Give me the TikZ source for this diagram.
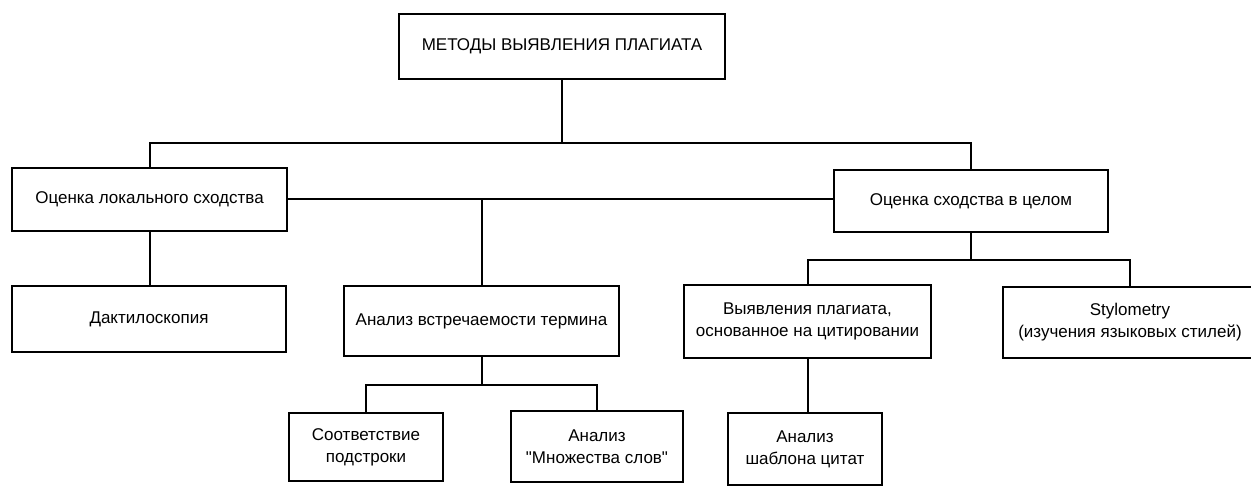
\documentclass[tikz,border=0pt]{standalone}
\usepackage{fontspec}
\setmainfont{Liberation Sans}
\begin{document}
\begin{tikzpicture}[x=1pt,y=-1pt,
  box/.style={draw, line width=2pt, anchor=north west, inner sep=0pt, align=center,
    font=\fontsize{17}{22}\selectfont},
  link/.style={line width=2pt}]
\useasboundingbox (0,0) rectangle (1251,486);
\fill[white] (0,0) rectangle (1251,486);
\clip (0,0) rectangle (1251,486);
\node[box, minimum width=326pt, minimum height=65pt] (top) at (398,13) {МЕТОДЫ ВЫЯВЛЕНИЯ ПЛАГИАТА};
\node[box, minimum width=275pt, minimum height=63pt] (L1) at (11,167) {Оценка локального сходства};
\node[box, minimum width=274pt, minimum height=62pt] (R1) at (833,169) {Оценка сходства в целом};
\node[box, minimum width=274pt, minimum height=66pt] (dak) at (11,285) {Дактилоскопия};
\node[box, minimum width=275pt, minimum height=70pt] (term) at (343,285) {Анализ встречаемости термина};
\node[box, minimum width=154pt, minimum height=68pt] (sub) at (288,412) {Соответствие\\подстроки};
\node[box, minimum width=172pt, minimum height=71pt] (bow) at (510,410) {Анализ\\\textquotedbl Множества слов\textquotedbl};
\node[box, minimum width=247pt, minimum height=73pt] (cit) at (683,284) {Выявления плагиата,\\основанное на цитировании};
\node[box, minimum width=254pt, minimum height=71pt] (sty) at (1002,286) {Stylometry\\(изучения языковых стилей)};
\node[box, minimum width=154pt, minimum height=72pt] (tmpl) at (727,412) {Анализ\\шаблона цитат};
\coordinate (h1) at (0,143);
\coordinate (j1) at (top.south |- h1);
\coordinate (h3) at (0,385);
\coordinate (j3) at (term.south |- h3);
\coordinate (h4) at (0,260);
\coordinate (j4) at (R1.south |- h4);
\draw[link] (top.south) -- (j1);
\draw[link] (L1.north) |- (j1) -| (R1.north);
\draw[link] (L1.south) -- (L1.south |- dak.north);
\draw[link] (L1.east) -- (R1.west |- L1.east);
\draw[link] (term.north |- L1.east) -- (term.north);
\draw[link] (term.south) -- (j3);
\draw[link] (sub.north) |- (j3) -| (bow.north);
\draw[link] (R1.south) -- (j4);
\draw[link] (cit.north) |- (j4) -| (sty.north);
\draw[link] (cit.south) -- (cit.south |- tmpl.north);
\end{tikzpicture}
\end{document}
